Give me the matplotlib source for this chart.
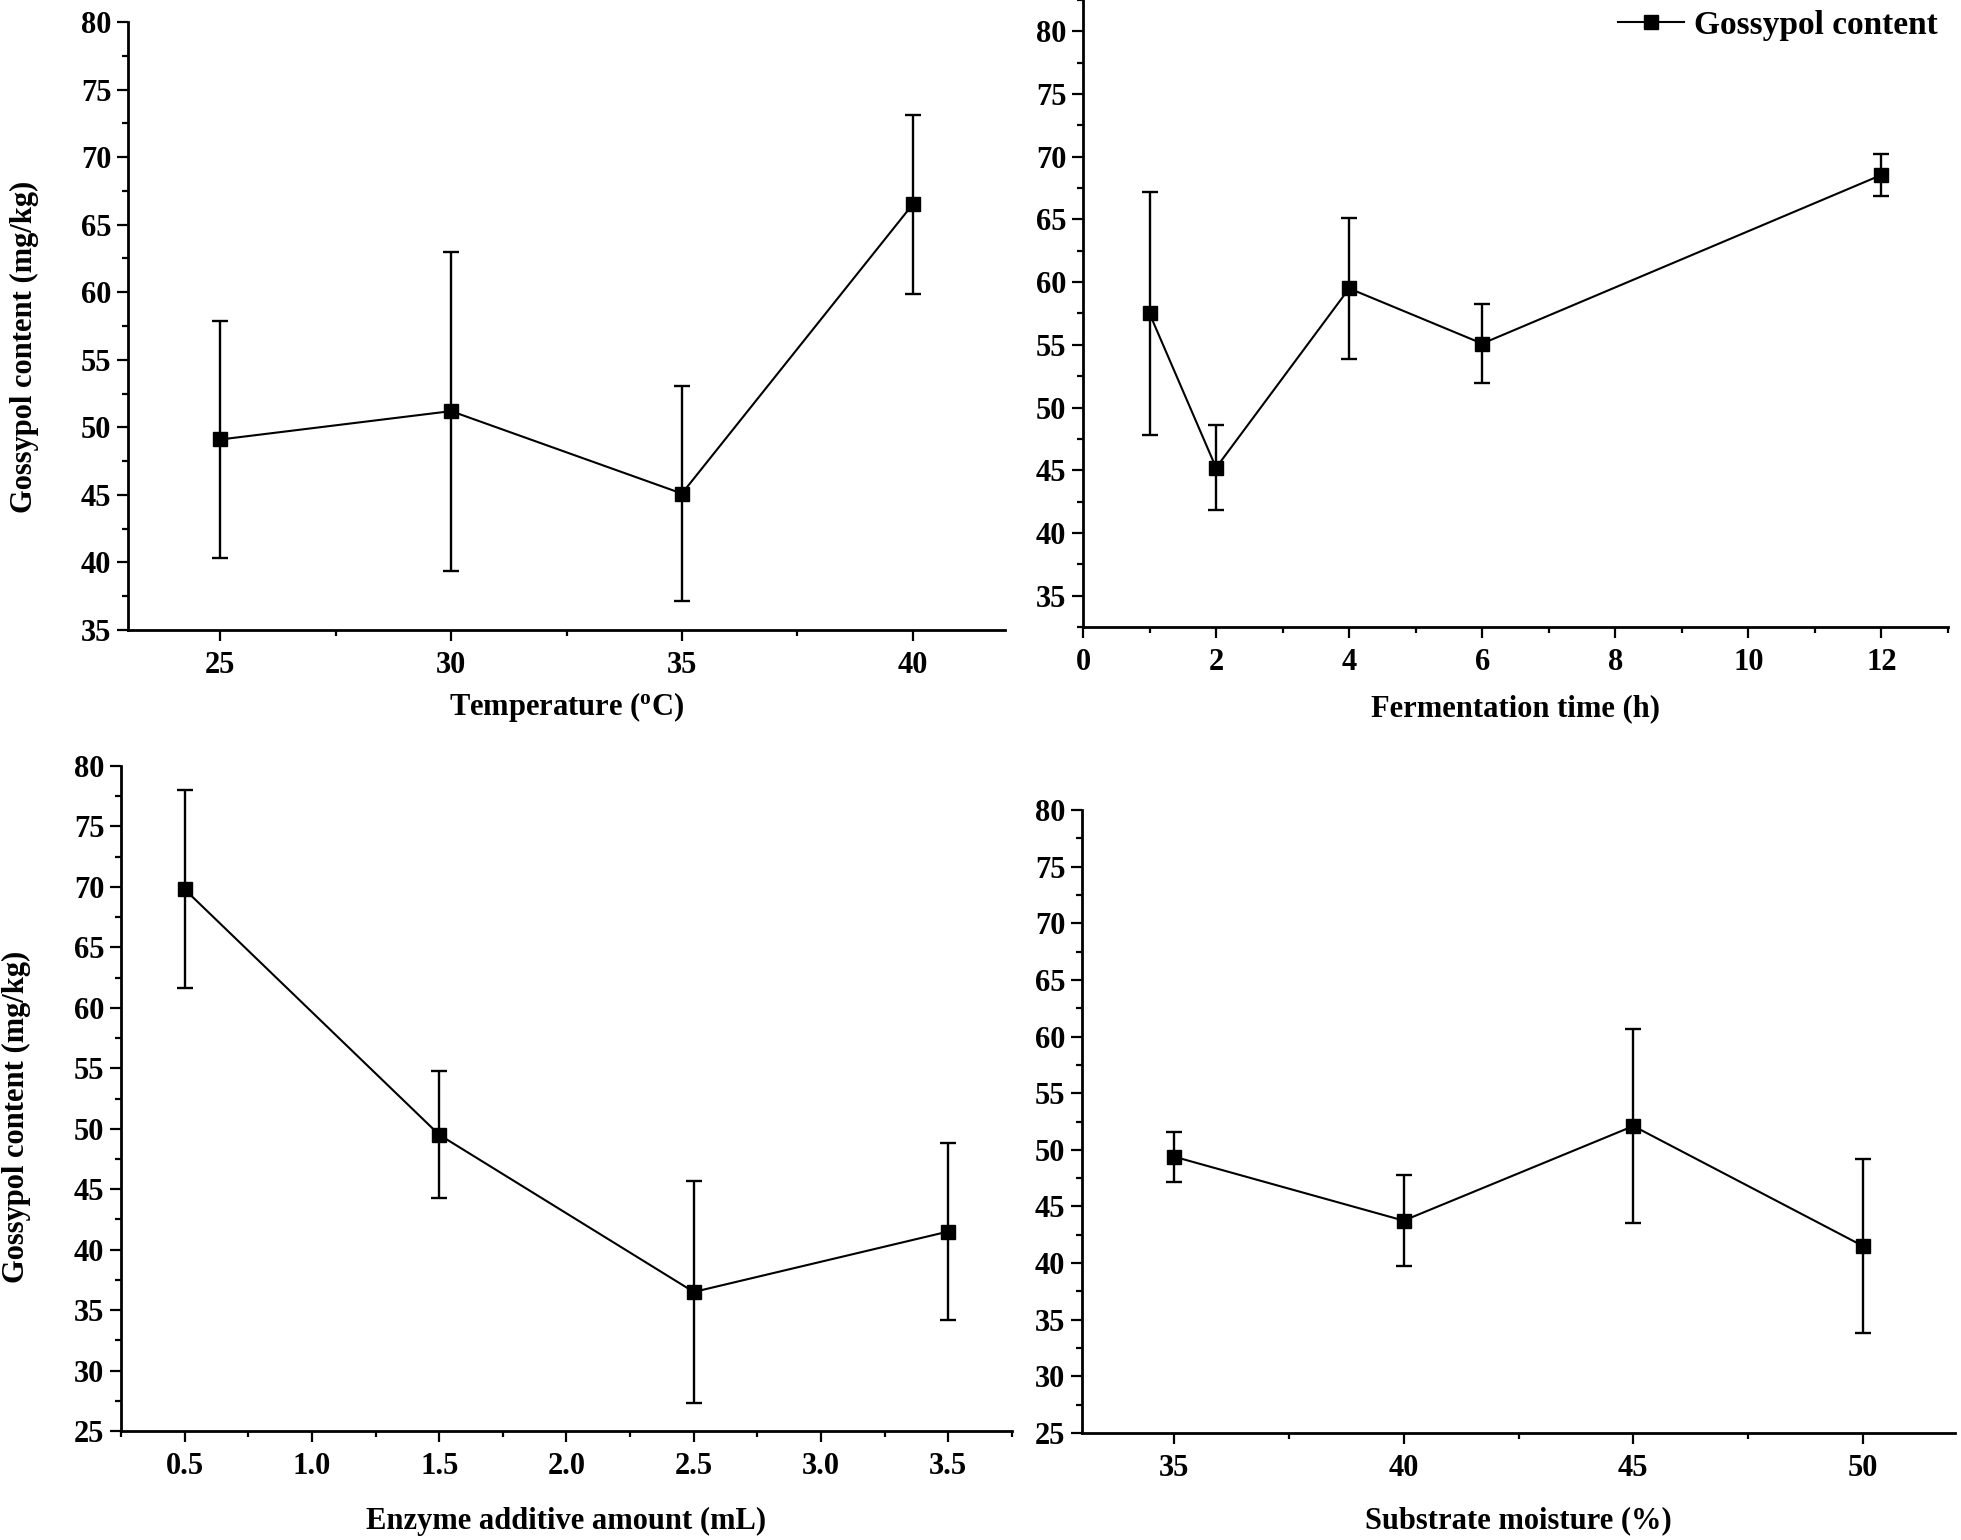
import matplotlib
matplotlib.use("Agg")
from matplotlib import pyplot as plt
from matplotlib.ticker import MultipleLocator, FormatStrFormatter

# data
temp_x = [25, 30, 35, 40]
temp_y = [49.1, 51.2, 45.1, 66.5]
temp_err = [8.8, 11.8, 7.95, 6.65]

time_x = [1, 2, 4, 6, 12]
time_y = [57.5, 45.2, 59.5, 55.1, 68.55]
time_err = [9.7, 3.4, 5.65, 3.15, 1.65]

enzyme_x = [0.5, 1.5, 2.5, 3.5]
enzyme_y = [69.8, 49.5, 36.5, 41.5]
enzyme_err = [8.2, 5.25, 9.15, 7.35]

moist_x = [35, 40, 45, 50]
moist_y = [49.4, 43.75, 52.1, 41.5]
moist_err = [2.2, 4.05, 8.6, 7.7]

plt.rcParams['font.family'] = 'Liberation Serif'
plt.rcParams['font.weight'] = 'bold'
plt.rcParams['axes.labelweight'] = 'bold'
plt.rcParams['font.size'] = 22
plt.rcParams['mathtext.fontset'] = 'custom'
plt.rcParams['mathtext.rm'] = 'Liberation Serif:bold'
plt.rcParams['mathtext.default'] = 'regular'

fig = plt.figure(figsize=(19.61, 15.40), dpi=100)

W, H = 1961, 1540
def box(l, t, r, b):
    return [l / W, 1 - b / H, (r - l) / W, (b - t) / H]

ax1 = fig.add_axes(box(128, 22, 1005, 630))
ax2 = fig.add_axes(box(1083, 0, 1948, 627))
ax3 = fig.add_axes(box(121, 766, 1012, 1431))
ax4 = fig.add_axes(box(1082, 810, 1955, 1433))


def style(ax, xlim, ylim, xmaj, ymaj, xlabel, xlab_y, ylabel=None, ylab=None):
    ax.spines['top'].set_visible(False)
    ax.spines['right'].set_visible(False)
    ax.spines['left'].set_linewidth(2)
    ax.spines['bottom'].set_linewidth(2)
    ax.set_xlim(*xlim)
    ax.set_ylim(*ylim)
    ax.xaxis.set_major_locator(MultipleLocator(xmaj))
    ax.xaxis.set_minor_locator(MultipleLocator(xmaj / 2))
    ax.yaxis.set_major_locator(MultipleLocator(ymaj))
    ax.yaxis.set_minor_locator(MultipleLocator(ymaj / 2))
    ax.tick_params(which='major', direction='out', length=8, width=1.6, labelsize=22)
    ax.tick_params(which='minor', direction='out', length=4, width=1.6)
    ax.tick_params(axis='y', pad=4)
    ax.tick_params(axis='x', pad=7)
    ax.set_xlabel(xlabel, fontsize=22)
    ax.xaxis.set_label_coords(0.5, xlab_y)
    if ylabel:
        ax.set_ylabel(ylabel, fontsize=22)
        ax.yaxis.set_label_coords(ylab[0], ylab[1])


kw = dict(fmt='-s', color='k', ecolor='k', lw=1.5, ms=9.5, capsize=6,
          elinewidth=1.7, capthick=1.7)

ax1.errorbar(temp_x, temp_y, yerr=temp_err, **kw)
style(ax1, (23, 42), (35, 80), 5, 5, 'Temperature ($^{o}$C)', -0.098,
      'Gossypol content (mg/kg)', (-0.102, 0.465))

h = ax2.errorbar(time_x, time_y, yerr=time_err, label='Gossypol content', **kw)
style(ax2, (0, 13), (32.5, 82.5), 2, 5, 'Fermentation time (h)', -0.108)
ax2.set_yticks(range(35, 81, 5))
ax2.legend(handles=[h[0]], labels=['Gossypol content'], loc='upper right',
           frameon=False, handlelength=2.0, handletextpad=0.3,
           borderaxespad=0.1, borderpad=0.2,
           prop={'family': 'Liberation Serif', 'weight': 'bold', 'size': 24})

ax3.errorbar(enzyme_x, enzyme_y, yerr=enzyme_err, **kw)
style(ax3, (0.25, 3.75), (25, 80), 0.5, 5, 'Enzyme additive amount (mL)', -0.114,
      'Gossypol content (mg/kg)', (-0.101, 0.472))
ax3.xaxis.set_major_formatter(FormatStrFormatter('%.1f'))

ax4.errorbar(moist_x, moist_y, yerr=moist_err, **kw)
style(ax4, (33, 52), (25, 80), 5, 5, 'Substrate moisture (%)', -0.117)

for ax in (ax1, ax2, ax3, ax4):
    for t in ax.get_xticklabels() + ax.get_yticklabels():
        t.set_fontweight('bold')

fig.savefig('out.png', dpi=100)
